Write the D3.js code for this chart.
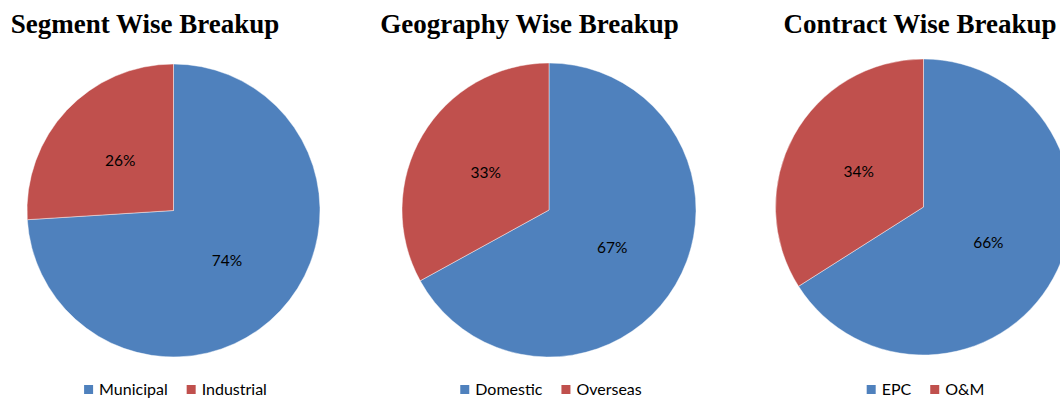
<!DOCTYPE html>
<html>
<head>
<meta charset="utf-8">
<script src="https://cdn.jsdelivr.net/npm/d3@7"></script>
<style>
  html, body { margin: 0; padding: 0; background: #fff; overflow: hidden; }
  svg { display: block; }
</style>
</head>
<body>
<svg id="chart" width="1060" height="399"></svg>
<script>
// Breakup data: one small array per pie
const chartTitles = ["Segment Wise Breakup", "Geography Wise Breakup", "Contract Wise Breakup"];
const segmentLabels = ["Municipal", "Industrial"];
const segmentValues = [74, 26];
const geographyLabels = ["Domestic", "Overseas"];
const geographyValues = [67, 33];
const contractLabels = ["EPC", "O&M"];
const contractValues = [66, 34];

const seriesColors = ["#4F81BD", "#C0504D"];

// Layout for each pie: centre, radius, title centre
const panels = [
  { title: chartTitles[0], labels: segmentLabels, values: segmentValues, cx: 173.5, cy: 210.5, r: 146.5, tx: 145 },
  { title: chartTitles[1], labels: geographyLabels, values: geographyValues, cx: 549, cy: 210, r: 147, tx: 529.5 },
  { title: chartTitles[2], labels: contractLabels, values: contractValues, cx: 923.5, cy: 207, r: 148, tx: 920 }
];

const svg = d3.select("#chart");
const color = d3.scaleOrdinal().range(seriesColors);
const pie = d3.pie().sort(null).value(d => d.value);

panels.forEach(p => {
  const data = p.labels.map((label, i) => ({ label, value: p.values[i] }));
  color.domain(p.labels);

  // Title
  svg.append("text")
    .attr("x", p.tx)
    .attr("y", 33)
    .attr("text-anchor", "middle")
    .attr("font-family", "'Liberation Serif', 'Times New Roman', serif")
    .attr("font-weight", "bold")
    .attr("font-size", 27)
    .attr("fill", "#000")
    .text(p.title);

  const g = svg.append("g").attr("transform", `translate(${p.cx},${p.cy})`);
  const arc = d3.arc().innerRadius(0).outerRadius(p.r);
  const arcs = pie(data);

  g.selectAll("path")
    .data(arcs)
    .join("path")
    .attr("d", arc)
    .attr("fill", d => color(d.data.label))
    .attr("stroke", "#fff")
    .attr("stroke-opacity", 0.55)
    .attr("stroke-width", 0.8);

  // Percentage labels at the slice centroids
  g.selectAll("text.pct")
    .data(arcs)
    .join("text")
    .attr("class", "pct")
    .attr("transform", d => `translate(${arc.centroid(d)})`)
    .attr("text-anchor", "middle")
    .attr("dy", "0.36em")
    .attr("font-family", "Lato, 'Open Sans', sans-serif")
    .attr("font-size", 15.5)
    .attr("fill", "#000")
    .text(d => d.data.value + "%");

  // Legend, centred under the pie
  const legend = svg.append("g");
  let x = 0;
  data.forEach((d, i) => {
    const item = legend.append("g");
    item.append("rect")
      .attr("x", 0).attr("y", -10)
      .attr("width", 9).attr("height", 9)
      .attr("fill", color(d.label));
    const t = item.append("text")
      .attr("x", 15).attr("y", 0)
      .attr("font-family", "Lato, 'Open Sans', sans-serif")
      .attr("font-size", 16)
      .attr("fill", "#000")
      .text(d.label);
    const w = 15 + t.node().getComputedTextLength();
    item.attr("transform", `translate(${x},0)`);
    x += w + 19;
  });
  const total = x - 19;
  legend.attr("transform", `translate(${p.cx + 2 - total / 2},395)`);
});
</script>
</body>
</html>
